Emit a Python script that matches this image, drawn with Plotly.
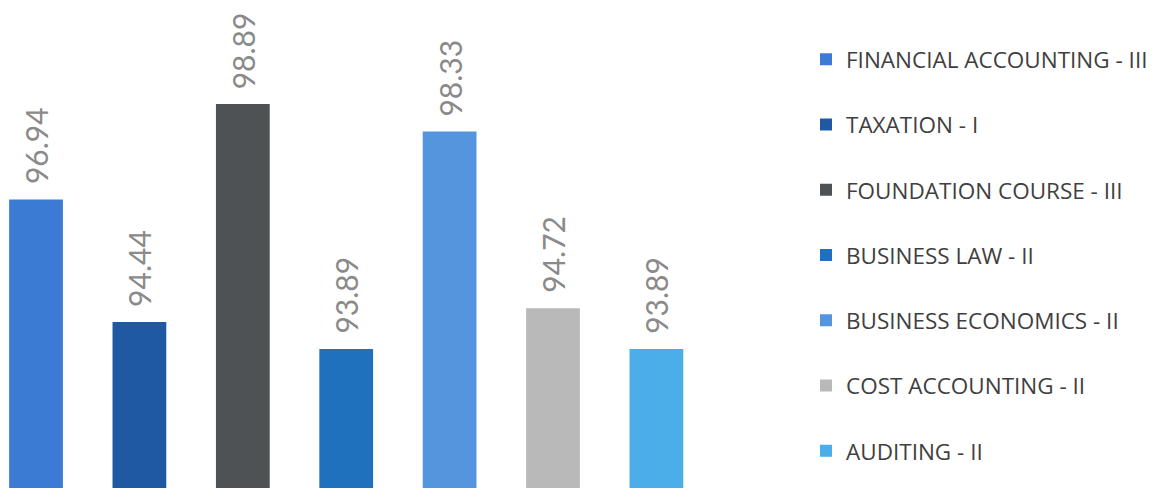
import plotly.graph_objects as go

# Datos del gráfico
subjects = ['FINANCIAL ACCOUNTING - III', 'TAXATION - I', 'FOUNDATION COURSE - III',
            'BUSINESS LAW - II', 'BUSINESS ECONOMICS - II', 'COST ACCOUNTING - II',
            'AUDITING - II']
results = [96.94, 94.44, 98.89, 93.89, 98.33, 94.72, 93.89]
colors = ['#3B7BD4', '#1F58A3', '#4E5254', '#1F71BD', '#5495DD', '#B9B9B9', '#4BAEE9']

fig = go.Figure()

for i, (name, val, col) in enumerate(zip(subjects, results, colors)):
    fig.add_trace(go.Bar(
        x=[i],
        y=[val],
        name=name,
        width=0.52,
        marker_color=col,
        marker_line_width=0,
        legendgroup=name,
        hovertemplate=name + ": %{y}<extra></extra>"
    ))
    # etiqueta rotada sobre la barra
    fig.add_annotation(
        x=i, y=val,
        text=f"{val:.2f}",
        textangle=-90,
        showarrow=False,
        xanchor='center',
        yanchor='bottom',
        yshift=13,
        font=dict(family='Lato', size=30, color='#8A8A8A')
    )

fig.update_layout(
    width=1162,
    height=480,
    margin=dict(l=0, r=462, t=0, b=0),
    paper_bgcolor='white',
    plot_bgcolor='white',
    barmode='overlay',
    showlegend=True,
    legend=dict(
        x=1.14, y=0.485,
        xanchor='left', yanchor='middle',
        traceorder='grouped',
        tracegroupgap=33,
        font=dict(family='Open Sans', size=22.5, color='#404040'),
        bgcolor='rgba(0,0,0,0)'
    ),
    xaxis=dict(range=[-0.271, 6.499], visible=False),
    yaxis=dict(range=[91.05, 100.85], visible=False),
)

fig.write_html("out.html")
